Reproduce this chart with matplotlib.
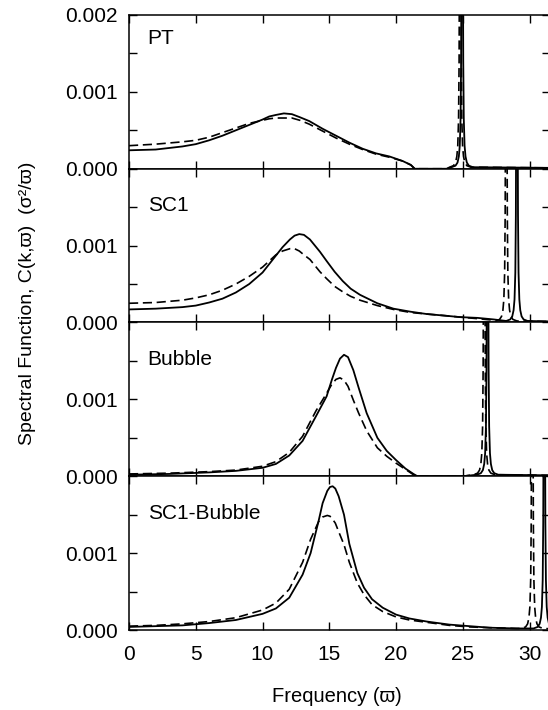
import numpy as np
import matplotlib
matplotlib.use("Agg")
import matplotlib.pyplot as plt
from matplotlib.ticker import FixedLocator, FixedFormatter

plt.rcParams['font.family'] = ['Liberation Sans', 'DejaVu Sans']

# ---------------- data ----------------
panel_names = ["PT", "SC1", "Bubble", "SC1-Bubble"]

pt_x = [0, 2, 4, 5, 6, 7, 8, 9, 10, 10.5, 11, 11.6, 12.2, 12.8, 13.5, 14.5, 15.5, 16.5, 17.5, 18.5, 19.5, 20.5, 21.1,
        21.4, 23.8]
pt_solid = [0.00024, 0.00025, 0.00029, 0.00032, 0.00037, 0.00043, 0.0005, 0.00057, 0.00064, 0.00068, 0.0007, 0.00072,
            0.00071, 0.00067, 0.00062, 0.00052, 0.00043, 0.00034, 0.00026, 0.0002, 0.00016, 0.0001, 0.00005, 0, 0]
pt_dashed = [0.0003, 0.00032, 0.00035, 0.00037, 0.00041, 0.00047, 0.00053, 0.00059, 0.00063, 0.00065, 0.00066, 0.00066,
             0.00066, 0.00063, 0.00058, 0.00049, 0.0004, 0.00032, 0.00025, 0.00019, 0.00015, 0.0001, 0.00005, 0, 0]

sc1_x = [0, 2, 4, 5, 6, 7, 8, 9, 10, 11, 11.5, 12.05, 12.4, 12.75, 13.1, 13.55, 14.3, 14.8, 15.4, 16, 16.6, 17.3, 18.6,
         19.8, 21.1, 22.3, 23.6, 24.8, 26.1, 27.3]
sc1_solid = [0.00017, 0.00018, 0.0002, 0.00022, 0.00026, 0.00031, 0.00039, 0.0005, 0.00065, 0.00087, 0.00098, 0.00108,
             0.00113, 0.00115, 0.00114, 0.00108, 0.00092, 0.0008, 0.00066, 0.00054, 0.00044, 0.00036, 0.00025, 0.00018,
             0.00014, 0.00011, 0.00009, 0.00007, 0.00006, 0.00004]
sc1_dashed = [0.00025, 0.00026, 0.00029, 0.00032, 0.00036, 0.00042, 0.0005, 0.0006, 0.00072, 0.00088, 0.00093, 0.00096,
              0.00096, 0.00093, 0.00088, 0.00082, 0.00066, 0.00057, 0.00047, 0.0004, 0.00034, 0.00029, 0.00022,
              0.00017, 0.00013, 0.00011, 0.00009, 0.00007, 0.00005, 0.00003]

bub_x = [0, 3, 6, 8, 10, 11, 12, 13, 14, 14.8, 15.2, 15.5, 15.8, 16.1, 16.4, 16.8, 17.2, 17.8, 18.6, 19.3, 20, 20.7,
         21.3, 21.6, 25.0]
bub_solid = [0.00002, 0.00003, 0.00005, 0.00007, 0.00011, 0.00016, 0.00027, 0.00046, 0.00078, 0.00104, 0.00126,
             0.00141, 0.00153, 0.00158, 0.00155, 0.00138, 0.00115, 0.00082, 0.0005, 0.00033, 0.00021, 0.0001, 0.00003,
             0, 0]
bub_dashed = [0.00003, 0.00004, 0.00006, 0.00008, 0.00013, 0.00019, 0.00031, 0.00052, 0.00085, 0.00108, 0.0012,
              0.00126, 0.00128, 0.00125, 0.00117, 0.00099, 0.00082, 0.00059, 0.00037, 0.00026, 0.00017, 0.00009,
              0.00002, 0, 0]

scb_x = [0, 2, 4, 6, 8, 10, 11, 12, 13, 13.6, 14.2, 14.5, 14.85, 15.05, 15.25, 15.45, 15.7, 16.1, 16.5, 17.1, 17.6,
         18.2, 19, 20, 21, 22.3, 24, 25.5, 27, 29]
scb_solid = [0.00004, 0.00005, 0.00006, 0.00009, 0.00013, 0.00021, 0.00028, 0.00042, 0.00072, 0.001, 0.00142, 0.00165,
             0.00181, 0.00186, 0.00187, 0.00184, 0.00174, 0.0015, 0.00112, 0.00074, 0.00055, 0.0004, 0.00029, 0.0002,
             0.00015, 0.00011, 0.00007, 0.00005, 0.00003, 0.00002]
scb_dashed = [0.00005, 0.00006, 0.00008, 0.00011, 0.00016, 0.00026, 0.00035, 0.00053, 0.00088, 0.00118, 0.00141,
              0.00147, 0.00149, 0.00148, 0.00144, 0.00139, 0.00128, 0.00111, 0.00088, 0.00061, 0.00046, 0.00033,
              0.00024, 0.00017, 0.00013, 0.0001, 0.00006, 0.00004, 0.00003, 0.00002]

# narrow high-frequency peaks: centres and read-off profile around the centre
solid_peak_pos = [24.95, 29.05, 26.85, 31.1]
dashed_peak_pos = [24.8, 28.25, 26.6, 30.2]
peak_offsets = [-0.8, -0.5, -0.35, -0.25, -0.18, -0.12, -0.08, -0.06, -0.03, 0, 0.03, 0.06, 0.08, 0.12, 0.18, 0.25,
                0.35, 0.5, 0.8]
peak_heights = [0.00002, 0.00004, 0.00008, 0.00016, 0.0003, 0.00065, 0.0014, 0.0025, 0.008, 0.03, 0.008, 0.0025,
                0.0014, 0.00065, 0.0003, 0.00016, 0.00008, 0.00004, 0.00002]

x_ticks = [0, 5, 10, 15, 20, 25, 30]
y_ticks = [0, 0.0005, 0.001, 0.0015, 0.002]

panels = [
    (pt_x, pt_solid, pt_dashed),
    (sc1_x, sc1_solid, sc1_dashed),
    (bub_x, bub_solid, bub_dashed),
    (scb_x, scb_solid, scb_dashed),
]

# ---------------- figure ----------------
W, H = 548, 710
fig = plt.figure(figsize=(W / 100, H / 100), dpi=100)
gs = fig.add_gridspec(4, 1, left=129 / W, right=1.003, top=1 - 15 / H, bottom=1 - 630 / H, hspace=0)

for i, (name, (bx, bs, bd)) in enumerate(zip(panel_names, panels)):
    ax = fig.add_subplot(gs[i])
    for base_x, base_y, pos, style in ((bx, bs, solid_peak_pos[i], '-'), (bx, bd, dashed_peak_pos[i], 'dashed')):
        xs = np.concatenate([base_x, pos + np.array(peak_offsets), [32.5]])
        ys = np.concatenate([base_y, peak_heights, [0.00001]])
        if style == '-':
            ax.plot(xs, ys, color='black', lw=1.3, solid_joinstyle='round')
        else:
            ax.plot(xs, ys, color='black', lw=1.2, linestyle=(0, (5.5, 2.8)))
    ax.set_xlim(0, 31.5)
    ax.set_ylim(0, 0.002)
    ax.xaxis.set_major_locator(FixedLocator(x_ticks))
    ax.yaxis.set_major_locator(FixedLocator(y_ticks))
    ylabels = ['0.000', '', '0.001', '', '0.002' if i == 0 else '']
    ax.yaxis.set_major_formatter(FixedFormatter(ylabels))
    ax.tick_params(direction='in', length=6, width=1.0, top=True, right=True,
                   labelsize=15, pad=8, colors='black')
    if i < 3:
        ax.tick_params(labelbottom=False)
    else:
        ax.tick_params(axis='x', pad=10.5)
    for sp in ax.spines.values():
        sp.set_linewidth(1.1)
    ax.text(1.4, 0.0017 if i == 0 else 0.00152, name, fontsize=15, ha='left', va='center')

fig.text(28 / W, 1 - 303 / H, "Spectral Function, C(k,\u03d6)  (\u03c3\u00b2/\u03d6)", rotation=90,
         ha='center', va='center', fontsize=14)
fig.text(337 / W, 1 - 697 / H, "Frequency (\u03d6)", ha='center', va='center', fontsize=14.5)

fig.savefig("out.png", dpi=100)
